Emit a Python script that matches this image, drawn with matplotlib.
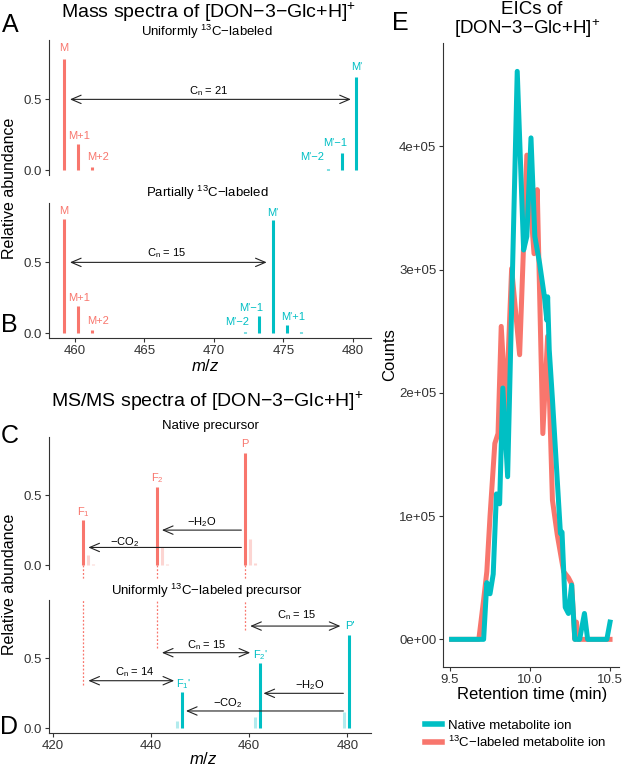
import numpy as np
import matplotlib.pyplot as plt
from matplotlib.lines import Line2D

plt.rcParams['font.family'] = ['Liberation Sans', 'DejaVu Sans']
plt.rcParams['mathtext.fontset'] = 'custom'
plt.rcParams['mathtext.rm'] = 'Liberation Sans'
plt.rcParams['mathtext.it'] = 'Liberation Sans:italic'

RED = '#F8766D'
CYAN = '#00BFC4'
DARK = '#333333'

# ---- data: full-scan spectra (A, B) ----
mz_native = [459.19, 460.19, 461.19, 462.19]
ab_native_A = [0.787, 0.183, 0.020, 0.003]
ab_native_B = [0.810, 0.190, 0.020, 0.003]
mz_uniform = [478.25, 479.25, 480.26]
ab_uniform = [0.010, 0.120, 0.655]
mz_partial = [472.24, 473.24, 474.24, 475.24, 476.24]
ab_partial = [0.008, 0.120, 0.800, 0.054, 0.004]

# ---- data: MS/MS spectra (C, D) ----
mz_frag_native = [426.18, 441.16, 459.18]
ab_frag_native = [0.32, 0.56, 0.80]
mz_iso_native = [427.18, 428.18, 442.16, 443.16, 460.18, 461.18]
ab_iso_native = [0.071, 0.005, 0.126, 0.010, 0.184, 0.015]
mz_frag_label = [446.33, 462.24, 480.27]
ab_frag_label = [0.26, 0.464, 0.666]
mz_iso_label = [444.33, 445.33, 460.24, 461.24, 478.27, 479.27]
ab_iso_label = [0.005, 0.054, 0.004, 0.083, 0.005, 0.120]

# ---- data: EICs (E) ----
native_t = [9.51, 9.71, 9.73, 9.75, 9.77, 9.79, 9.81, 9.83, 9.86, 9.92, 9.96,
            9.98, 10.006, 10.03, 10.06, 10.09, 10.105, 10.11, 10.12, 10.14,
            10.19, 10.20, 10.22, 10.24, 10.26, 10.28, 10.31, 10.34, 10.36,
            10.48, 10.50]
native_counts = [0, 0, 0.46e5, 0.37e5, 0.53e5, 1.18e5, 1.10e5, 2.04e5, 1.32e5,
                 4.61e5, 3.16e5, 3.27e5, 4.07e5, 3.27e5, 3.05e5, 2.78e5, 2.59e5,
                 2.78e5, 2.35e5, 1.95e5, 0.86e5, 0.87e5, 0.26e5, 0.21e5,
                 0.44e5, 0, 0, 0.21e5, 0, 0, 0.14e5]
labeled_t = [9.51, 9.68, 9.71, 9.73, 9.75, 9.78, 9.80, 9.82, 9.85, 9.885, 9.935,
             9.98, 10.025, 10.045, 10.08, 10.11, 10.14, 10.17, 10.21, 10.24,
             10.26, 10.28, 10.29, 10.30, 10.50]
labeled_counts = [0, 0, 0.32e5, 0.55e5, 1.0e5, 1.59e5, 1.67e5, 2.54e5, 1.85e5,
                  3.01e5, 2.31e5, 3.93e5, 3.13e5, 3.65e5, 1.67e5, 2.46e5,
                  1.13e5, 0.85e5, 0.55e5, 0.50e5, 0.45e5, 0, 0.14e5, 0, 0]

W, H = 625, 767
fig = plt.figure(figsize=(W / 100, H / 100), dpi=100)


def add_ax(l, t, r, b):
    return fig.add_axes([l / W, 1 - b / H, (r - l) / W, (b - t) / H])


def ftext(x, y, s, **kw):
    kw.setdefault('ha', 'center')
    kw.setdefault('va', 'center')
    fig.text(x / W, 1 - y / H, s, **kw)


def style(ax, show_x):
    for s in ['top', 'right']:
        ax.spines[s].set_visible(False)
    for s in ['left', 'bottom']:
        ax.spines[s].set_color(DARK)
        ax.spines[s].set_linewidth(0.8)
    ax.tick_params(labelsize=9.5, colors=DARK, length=3, width=0.8, pad=2)
    if not show_x:
        ax.spines['bottom'].set_visible(False)
        ax.tick_params(axis='x', bottom=False, labelbottom=False)
    ax.patch.set_alpha(0)


def bars(ax, x, y, color, alpha=1.0):
    lc = ax.vlines(x, 0, y, color=color, lw=2.2, alpha=alpha)
    lc.set_capstyle('butt')


def arrow(ax, x0, x1, y, both=True):
    st = '<->' if both else '->'
    ax.annotate('', xy=(x1, y), xytext=(x0, y),
                arrowprops=dict(arrowstyle=st + ', head_length=0.7, head_width=0.3',
                                lw=0.8, color='#222222', shrinkA=0, shrinkB=0,
                                mutation_scale=10))


def lab(ax, x, y, s, color, size=8, **kw):
    ax.text(x, y, s, color=color, fontsize=size, ha='center', va='center', **kw)


CN = 'C$_\\mathrm{n}$ = '

# ---------- A / B ----------
axA = add_ax(49, 40, 371, 175)
axB = add_ax(49, 203, 371, 338)
for ax in (axA, axB):
    ax.set_xlim(458.13, 481.31)
    ax.set_ylim(-0.035, 0.92)
    ax.set_yticks([0.0, 0.5])
    ax.set_xticks([460, 465, 470, 475, 480])
style(axA, False)
style(axB, True)

bars(axA, mz_native, ab_native_A, RED)
bars(axA, mz_uniform, ab_uniform, CYAN)
arrow(axA, 459.64, 479.86, 0.5)
lab(axA, 469.6, 0.56, CN + '21', 'black')
lab(axA, 459.19, 0.863, 'M', RED)
lab(axA, 460.29, 0.24, 'M+1', RED)
lab(axA, 461.66, 0.092, 'M+2', RED)
lab(axA, 480.28, 0.73, "M'", CYAN)
lab(axA, 478.7, 0.19, "M'−1", CYAN)
lab(axA, 477.1, 0.092, "M'−2", CYAN)

bars(axB, mz_native, ab_native_B, RED)
bars(axB, mz_partial, ab_partial, CYAN)
arrow(axB, 459.64, 473.8, 0.5)
lab(axB, 466.6, 0.566, CN + '15', 'black')
lab(axB, 459.19, 0.86, 'M', RED)
lab(axB, 460.29, 0.246, 'M+1', RED)
lab(axB, 461.66, 0.087, 'M+2', RED)
lab(axB, 474.24, 0.85, "M'", CYAN)
lab(axB, 472.7, 0.18, "M'−1", CYAN)
lab(axB, 471.7, 0.076, "M'−2", CYAN)
lab(axB, 475.7, 0.116, "M'+1", CYAN)

ftext(208, 12, 'Mass spectra of [DON−3−Glc+H]$^{+}$', fontsize=14)
ftext(207, 32, 'Uniformly $^{13}$C−labeled', fontsize=9.5)
ftext(207, 193, 'Partially $^{13}$C−labeled', fontsize=9.5)
ftext(10, 188, 'Relative abundance', fontsize=11.5, rotation=90)
ftext(205, 366, '$m/z$', fontsize=12)
ftext(10, 25, 'A', fontsize=18)
ftext(9, 325, 'B', fontsize=18)

# ---------- C / D ----------
axC = add_ax(49, 437, 371, 569.4)
axD = add_ax(49, 600, 371, 732.7)
for ax in (axC, axD):
    ax.set_xlim(419.18, 484.83)
    ax.set_ylim(-0.031, 0.916)
    ax.set_yticks([0.0, 0.5])
    ax.set_xticks([420, 440, 460, 480])
style(axC, False)
style(axD, True)

bars(axC, mz_iso_native, ab_iso_native, RED, alpha=0.3)
bars(axC, mz_frag_native, ab_frag_native, RED)
arrow(axC, 458.4, 442.2, 0.25, both=False)
arrow(axC, 458.4, 427.2, 0.126, both=False)
lab(axC, 450.3, 0.31, '−H$_2$O', 'black')
lab(axC, 434.5, 0.167, '−CO$_2$', 'black')
lab(axC, 459.18, 0.864, 'P', RED)
lab(axC, 441.2, 0.62, 'F$_2$', RED)
lab(axC, 426.2, 0.379, 'F$_1$', RED)
for xv in mz_frag_native:
    axC.plot([xv, xv], [0, -0.107], color=RED, lw=0.9, ls=(0, (1.5, 1.5)),
             clip_on=False)

bars(axD, mz_iso_label, ab_iso_label, CYAN, alpha=0.3)
bars(axD, mz_frag_label, ab_frag_label, CYAN)
for xv, yv in zip(mz_frag_native, [0.31, 0.57, 0.70]):
    axD.plot([xv, xv], [yv, 0.916], color=RED, lw=0.9, ls=(0, (1.5, 1.5)))
arrow(axD, 460.2, 478.6, 0.73)
arrow(axD, 442.2, 460.2, 0.54)
arrow(axD, 427.2, 444.7, 0.34)
arrow(axD, 479.2, 462.9, 0.25, both=False)
arrow(axD, 479.2, 447.1, 0.124, both=False)
lab(axD, 469.7, 0.81, CN + '15', 'black')
lab(axD, 451.4, 0.595, CN + '15', 'black')
lab(axD, 436.7, 0.40, CN + '14', 'black')
lab(axD, 472.4, 0.31, '−H$_2$O', 'black')
lab(axD, 455.6, 0.18, '−CO$_2$', 'black')
lab(axD, 480.5, 0.73, "P'", CYAN)
lab(axD, 462.3, 0.52, "F$_2$'", CYAN)
lab(axD, 446.6, 0.316, "F$_1$'", CYAN)

ftext(207, 401, 'MS/MS spectra of [DON−3−Glc+H]$^{+}$', fontsize=14)
ftext(210, 426, 'Native precursor', fontsize=9.5)
ftext(207, 591, 'Uniformly $^{13}$C−labeled precursor', fontsize=9.5)
ftext(10, 584, 'Relative abundance', fontsize=11.5, rotation=90)
ftext(203, 759, '$m/z$', fontsize=12)
ftext(10, 436, 'C', fontsize=18)
ftext(9, 727, 'D', fontsize=18)

# ---------- E ----------
axE = add_ax(443.3, 43, 619, 666.7)
style(axE, True)
axE.plot(labeled_t, labeled_counts, color=RED, lw=3.6, solid_joinstyle='round')
axE.plot(native_t, native_counts, color=CYAN, lw=3.6, solid_joinstyle='round')
axE.set_xlim(9.458, 10.556)
axE.set_ylim(-0.222e5, 4.84e5)
axE.set_xticks([9.5, 10.0, 10.5])
axE.set_xticklabels(['9.5', '10.0', '10.5'])
axE.set_yticks([0, 1e5, 2e5, 3e5, 4e5])
axE.set_yticklabels(['0e+00', '1e+05', '2e+05', '3e+05', '4e+05'])

ftext(532, 9, 'EICs of', fontsize=13.5)
ftext(527, 29, '[DON−3−Glc+H]$^{+}$', fontsize=13.5)
ftext(400, 23, 'E', fontsize=18)
ftext(390, 355, 'Counts', fontsize=12, rotation=90)
ftext(532, 694, 'Retention time (min)', fontsize=12)

handles = [Line2D([], [], color=CYAN, lw=4), Line2D([], [], color=RED, lw=4)]
fig.legend(handles, ['Native metabolite ion', '$^{13}$C−labeled metabolite ion'],
           loc='upper left', bbox_to_anchor=(420 / W, 1 - 714 / H), frameon=False,
           fontsize=9.5, handlelength=1.3, handletextpad=0.4, labelspacing=0.25,
           borderaxespad=0)

fig.savefig('out.png', dpi=100)
